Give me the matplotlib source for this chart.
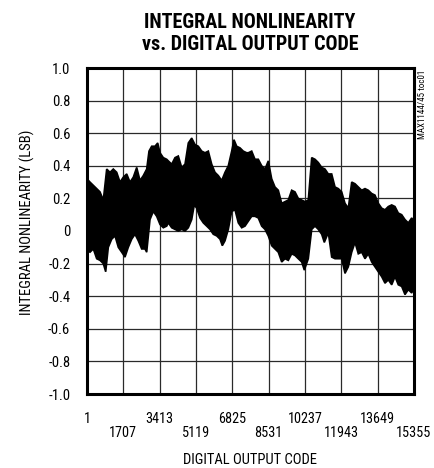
import numpy as np
import matplotlib
matplotlib.use("Agg")
import matplotlib.pyplot as plt

plt.rcParams['font.family'] = ['Roboto Condensed', 'DejaVu Sans']

# upper envelope of the INL trace (code, LSB)
upper_code = [1, 142, 377, 611, 766, 926, 1081, 1236, 1396, 1551, 1705, 1865, 2020, 2175, 2335,
              2490, 2645, 2804, 2912, 3039, 3194, 3321, 3429, 3584, 3743,
              3819, 3978, 4133, 4288, 4447, 4603, 4758, 4917, 5072, 5227, 5387, 5542, 5697,
              5856, 6011, 6166, 6326, 6481, 6636, 6795, 6903, 7029, 7185, 7340, 7499,
              7575, 7734, 7889, 8044, 8204, 8359, 8514, 8673, 8828, 8983, 9143, 9298, 9453,
              9612, 9767, 9922, 10082, 10237, 10392, 10552, 10707, 10862, 11021, 11176, 11332,
              11490, 11646, 11801, 11960, 12115, 12270, 12430, 12585, 12740, 12899, 13054,
              13209, 13369, 13524, 13679, 13838, 13993, 14148, 14308, 14463, 14618, 14777,
              14932, 15087, 15247, 15355]
upper_inl = [0.32, 0.30, 0.27, 0.24, 0.19, 0.38, 0.36, 0.38, 0.36, 0.30, 0.33, 0.35, 0.30, 0.33, 0.39,
             0.31, 0.34, 0.38, 0.49, 0.52, 0.52, 0.54, 0.48, 0.45, 0.44,
             0.43, 0.41, 0.45, 0.46, 0.39, 0.41, 0.54, 0.57, 0.53, 0.52, 0.49, 0.48, 0.49,
             0.41, 0.36, 0.34, 0.31, 0.36, 0.40, 0.49, 0.56, 0.52, 0.51, 0.49, 0.48,
             0.48, 0.49, 0.44, 0.44, 0.40, 0.38, 0.43, 0.32, 0.27, 0.25, 0.17, 0.18, 0.19,
             0.25, 0.24, 0.20, 0.19, 0.18, 0.19, 0.45, 0.44, 0.42, 0.39, 0.38, 0.35,
             0.35, 0.27, 0.26, 0.24, 0.17, 0.14, 0.30, 0.29, 0.27, 0.25, 0.26,
             0.25, 0.23, 0.22, 0.17, 0.14, 0.13, 0.15, 0.16, 0.15, 0.11, 0.10,
             0.07, 0.05, 0.08, 0.06]

# lower envelope of the INL trace (code, LSB)
lower_code = [1, 142, 298, 456, 611, 766, 879, 1001, 1161, 1316, 1471, 1630, 1785, 1940, 2100,
              2255, 2410, 2569, 2724, 2804, 2959, 3114, 3274, 3429, 3584, 3743,
              3819, 3978, 4133, 4288, 4447, 4603, 4758, 4917, 5039, 5150, 5307, 5462, 5621,
              5776, 5931, 6091, 6246, 6354, 6481, 6636, 6795, 6950, 7105, 7265, 7420,
              7575, 7734, 7889, 8044, 8204, 8359, 8514, 8673, 8828, 8983, 9143, 9298, 9453,
              9612, 9767, 9922, 10082, 10205, 10392, 10552, 10707, 10862, 11021, 11144, 11332,
              11490, 11646, 11801, 11960, 12115, 12270, 12430, 12585, 12740, 12899, 13054,
              13209, 13369, 13524, 13679, 13838, 13993, 14148, 14308, 14463, 14618, 14777,
              14932, 15087, 15247, 15355]
lower_inl = [-0.12, -0.13, -0.11, -0.17, -0.18, -0.20, -0.25, -0.10, -0.05, -0.03, -0.10, -0.13,
             -0.16, -0.10, -0.05, -0.02, -0.06, -0.11, -0.11, -0.13, 0.07, 0.12, 0.09, 0.04,
             0.02, 0.03,
             0.05, 0.02, 0.01, 0.00, 0.01, 0.00, 0.02, 0.07, 0.16, 0.14, 0.08, 0.05, 0.03,
             0.01, -0.02, -0.03, -0.05, -0.09, -0.06, 0.01, 0.12, 0.13, 0.05, 0.02, 0.03,
             0.06, 0.09, 0.09, 0.08, 0.03, 0.01, -0.03, -0.09, -0.11, -0.13, -0.19, -0.17,
             -0.18, -0.14, -0.15, -0.17, -0.19, -0.24, -0.17, 0.01, 0.03, 0.01, -0.02, -0.07,
             -0.01,
             -0.16, -0.17, -0.17, -0.17, -0.26, -0.22, -0.13, -0.07, -0.14, -0.13, -0.17,
             -0.14, -0.19, -0.22, -0.25, -0.28, -0.32, -0.30, -0.33, -0.28, -0.33, -0.34,
             -0.39, -0.36, -0.38, -0.35]

xticks = [1, 1707, 3413, 5119, 6825, 8531, 10237, 11943, 13649, 15355]
yticks = [-1.0, -0.8, -0.6, -0.4, -0.2, 0.0, 0.2, 0.4, 0.6, 0.8, 1.0]
ytick_labels = ['-1.0', '-0.8', '-0.6', '-0.4', '-0.2', '0', '0.2', '0.4', '0.6', '0.8', '1.0']

W, H = 435, 468
fig = plt.figure(figsize=(W/100, H/100), dpi=100)
ax = fig.add_axes([87/W, 1 - 394/H, 327/W, 326/H])

xs = np.concatenate([upper_code, lower_code[::-1]])
ys = np.concatenate([upper_inl, lower_inl[::-1]])
ax.fill(xs, ys, color='black', lw=1.2, ec='black', zorder=3)

ax.set_xlim(1, 15355)
ax.set_ylim(-1.0, 1.0)
ax.set_xticks(xticks)
ax.set_xticklabels([str(t) if i % 2 == 0 else '\n' + str(t) for i, t in enumerate(xticks)],
                   fontsize=10.3, linespacing=1.0)
ax.set_yticks(yticks)
ax.set_yticklabels(ytick_labels, fontsize=10.5)
ax.tick_params(length=0)
ax.tick_params(axis='x', pad=13)
ax.tick_params(axis='y', pad=12)
ax.grid(True, color='#2a2a2a', lw=0.9, zorder=1)
for s in ax.spines.values():
    s.set_linewidth(2.2)
    s.set_zorder(5)

fig.text(250/W, 1 - 460/H, 'DIGITAL OUTPUT CODE', ha='center', va='center', fontsize=10.5)
fig.text(27/W, 1 - 222/H, 'INTEGRAL NONLINEARITY (LSB)', rotation=90,
         ha='center', va='center', fontsize=10.5)

fig.text(250/W, 1 - 34/H, 'INTEGRAL NONLINEARITY\nvs. DIGITAL OUTPUT CODE',
         ha='center', va='center', fontsize=14.5, fontweight='black', linespacing=1.2)
fig.text(423/W, 1 - 70/H, 'MAX1144/45 toc01', rotation=90, ha='center', va='top', fontsize=6.5)

fig.savefig('out.png', dpi=100)
